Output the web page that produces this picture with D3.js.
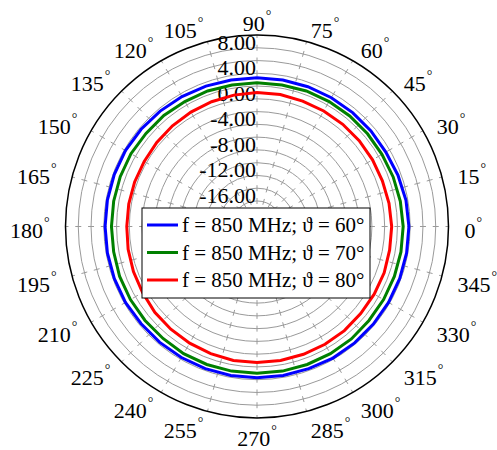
<!DOCTYPE html>
<html>
<head>
<meta charset="utf-8">
<script src="https://cdn.jsdelivr.net/npm/d3@7"></script>
<style>
  html, body { margin: 0; padding: 0; background: #fff; }
  svg { display: block; }
  text { font-family: "Liberation Serif", "DejaVu Serif", serif; fill: #000; }
</style>
</head>
<body>
<svg id="chart" width="497" height="450"></svg>
<script>
// Azimuth angles (degrees) of the measured pattern samples
const azimuth = [0, 10, 20, 30, 40, 50, 60, 70, 80, 90, 100, 110, 120, 130, 140, 150, 160, 170,
                 180, 190, 200, 210, 220, 230, 240, 250, 260, 270, 280, 290, 300, 310, 320, 330, 340, 350];

// Gain (dB) for each elevation angle at 850 MHz
const gain60 = [3.8, 3.7, 3.5, 3.3, 3.3, 3.3, 3.3, 3.3, 3.3, 3.3, 3.3, 3.4, 3.5, 3.6, 3.7, 3.8, 3.8, 3.8,
                3.8, 3.8, 3.8, 3.8, 3.7, 3.7, 3.7, 3.7, 3.7, 3.7, 3.7, 3.7, 3.8, 3.8, 3.8, 3.8, 3.8, 3.8];
const gain70 = [2.9, 2.8, 2.7, 2.6, 2.6, 2.6, 2.6, 2.6, 2.5, 2.5, 2.5, 2.6, 2.6, 2.7, 2.7, 2.8, 2.8, 2.8,
                2.8, 2.8, 2.9, 2.9, 2.9, 2.9, 3.0, 3.0, 3.0, 3.0, 3.0, 3.0, 3.0, 3.0, 2.9, 2.9, 2.9, 2.9];
const gain80 = [1.1, 1.0, 0.9, 0.9, 0.9, 0.9, 0.9, 0.9, 1.0, 1.0, 0.9, 0.8, 0.7, 0.6, 0.5, 0.4, 0.4, 0.4,
                0.4, 0.5, 0.6, 0.7, 0.9, 1.0, 1.1, 1.2, 1.3, 1.3, 1.3, 1.3, 1.3, 1.3, 1.2, 1.2, 1.2, 1.1];

const seriesNames = ["f = 850 MHz; \u03D1 = 60\u00B0", "f = 850 MHz; \u03D1 = 70\u00B0", "f = 850 MHz; \u03D1 = 80\u00B0"];
const seriesColors = ["#0000ff", "#008000", "#ff0000"];

// Axis ticks
const angleTicks = [0, 15, 30, 45, 60, 75, 90, 105, 120, 135, 150, 165, 180, 195, 210, 225, 240, 255, 270, 285, 300, 315, 330, 345];
const radialTickLabels = [8, 4, 0, -4, -8, -12, -16];
const ringValues = [-18, -16, -14, -12, -10, -8, -6, -4, -2, 0, 2, 4, 6, 8];
const radialDomain = [-20, 10];

const svg = d3.select("#chart");
const cx = 257, cy = 226.5, R = 191.5;
const labelFont = 22;

const r = d3.scaleLinear().domain(radialDomain).range([0, R]);
const rad = d => d * Math.PI / 180;

const g = svg.append("g").attr("transform", `translate(${cx},${cy})`);

// Concentric grid rings
g.append("g").selectAll("circle")
  .data(ringValues)
  .join("circle")
  .attr("r", d => r(d))
  .attr("fill", "none")
  .attr("stroke", "#9a9a9a")
  .attr("stroke-width", 1);

// Dashed spokes, dashes centred on each ring
const ringGap = r(2) - r(0);
const dashLen = 6;
g.append("g").selectAll("line")
  .data(angleTicks)
  .join("line")
  .attr("x1", d => R * Math.cos(rad(d)))
  .attr("y1", d => -R * Math.sin(rad(d)))
  .attr("x2", 0)
  .attr("y2", 0)
  .attr("stroke", "#9a9a9a")
  .attr("stroke-width", 1)
  .attr("stroke-dasharray", `${dashLen},${ringGap - dashLen}`)
  .attr("stroke-dashoffset", dashLen / 2);

// Radial value labels along the 90° spoke
g.append("g").selectAll("text")
  .data(radialTickLabels)
  .join("text")
  .attr("x", -1)
  .attr("y", d => -r(d) + 2)
  .attr("text-anchor", "end")
  .attr("font-size", labelFont)
  .text(d => d.toFixed(2));

// Pattern curves
const series = [gain60, gain70, gain80];
const line = d3.lineRadial()
  .angle(d => rad(90 - d[0]))
  .radius(d => r(d[1]))
  .curve(d3.curveLinearClosed);

g.append("g").selectAll("path")
  .data(series)
  .join("path")
  .attr("d", vals => line(azimuth.map((a, i) => [a, vals[i]])))
  .attr("fill", "none")
  .attr("stroke", (d, i) => seriesColors[i])
  .attr("stroke-width", 3);

// Outer boundary
g.append("circle")
  .attr("r", r(radialDomain[1]))
  .attr("fill", "none")
  .attr("stroke", "#000")
  .attr("stroke-width", 1.5);

// Angle labels with superscript degree sign; aligned away from the circle
const labelR = 207.5, baseShift = 11.5, degFont = 14;
const angG = g.append("g");
angleTicks.forEach(t => {
  const c = Math.cos(rad(t)), s = Math.sin(rad(t));
  const ax = labelR * c, ay = -labelR * s;
  const lg = angG.append("g");
  const num = lg.append("text").attr("font-size", labelFont).text(t);
  const numW = num.node().getComputedTextLength();
  const deg = lg.append("text").attr("font-size", degFont).text("\u00B0");
  const degW = deg.node().getComputedTextLength();
  const w = numW + 1 + degW;
  let left;
  if (c > 1e-6) left = ax;
  else if (c < -1e-6) left = ax - w;
  else left = ax - w / 2;
  const base = ay + baseShift;
  num.attr("x", left).attr("y", base);
  deg.attr("x", left + numW + 1).attr("y", base - 11);
});

// Legend
const legX = 142, legY = 208, legW = 228, legH = 90, rowH = 27.5;
const leg = svg.append("g").attr("transform", `translate(${legX},${legY})`);
leg.append("rect")
  .attr("width", legW).attr("height", legH)
  .attr("fill", "#fff").attr("stroke", "#000").attr("stroke-width", 1);
seriesNames.forEach((name, i) => {
  const yy = 17 + i * rowH;
  leg.append("line")
    .attr("x1", 5).attr("x2", 36).attr("y1", yy).attr("y2", yy)
    .attr("stroke", seriesColors[i]).attr("stroke-width", 3);
  leg.append("text")
    .attr("x", 40).attr("y", yy + 7)
    .attr("font-size", 21)
    .text(name);
});
</script>
</body>
</html>
